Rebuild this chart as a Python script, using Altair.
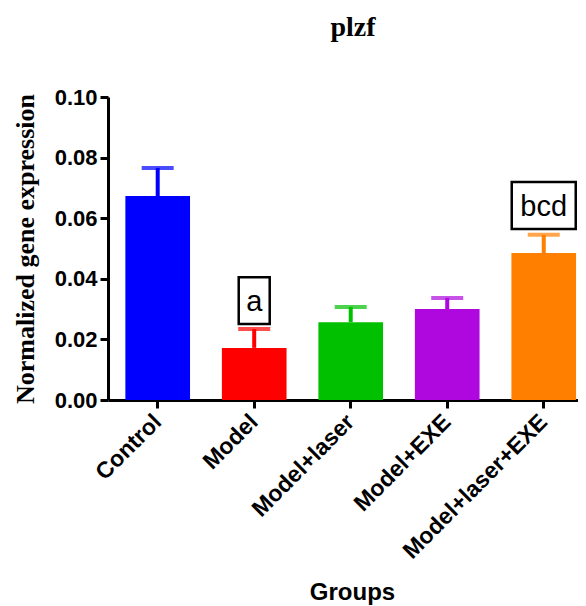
import altair as alt
import pandas as pd

groups = ["Control", "Model", "Model+laser", "Model+EXE", "Model+laser+EXE"]
means = [0.0673, 0.0172, 0.0257, 0.0300, 0.0485]
err_top = [0.0766, 0.0234, 0.0307, 0.0337, 0.0545]
colors = ["#0000FF", "#FF0000", "#00C000", "#AE08DE", "#FF8000"]

letter_groups = ["Model", "Model+laser+EXE"]
letters = ["a", "bcd"]
letter_y = [0.0328, 0.0642]

df = pd.DataFrame({"group": groups, "mean": means, "err": err_top, "color": colors})
half_box = 0.00775
ann = pd.DataFrame({"group": letter_groups, "letter": letters, "y": letter_y})
ann["lo"] = ann["y"] - half_box
ann["hi"] = ann["y"] + half_box

SANS = "Liberation Sans"
SERIF = "Liberation Serif"

x_enc = alt.X(
    "group:N",
    sort=groups,
    scale=alt.Scale(paddingInner=0.33, paddingOuter=0.1, align=0.9),
    axis=alt.Axis(
        title="Groups",
        titleFont=SANS, titleFontSize=24, titleFontWeight="bold", titleColor="black",
        titleX=244, titleY=199, titleAlign="center", titleBaseline="alphabetic",
        labelAngle=-45, labelAlign="right", labelBaseline="middle",
        labelFont=SANS, labelFontSize=23, labelFontWeight="bold", labelColor="black",
        labelPadding=10, labelLimit=0, labelOverlap=False,
        tickSize=8, tickWidth=3, tickColor="black",
        domainWidth=3, domainColor="black",
    ),
)
y_scale = alt.Scale(domain=[0, 0.1], nice=False)
y_axis = alt.Axis(
    title="Normalized gene expression",
    titleFont=SERIF, titleFontSize=26, titleFontWeight="bold", titleColor="black",
    titleAngle=-90, titleAlign="center", titleBaseline="middle",
    titleX=-83, titleY=151.5,
    values=[0, 0.02, 0.04, 0.06, 0.08, 0.10], format=".2f",
    labelFont=SANS, labelFontSize=22, labelFontWeight="bold", labelColor="black",
    labelPadding=3,
    tickSize=8, tickWidth=3, tickColor="black",
    domainWidth=3, domainColor="black", grid=False,
)
color_enc = alt.Color("color:N", scale=None)

base = alt.Chart(df)
bars = base.mark_bar().encode(
    x=x_enc, y=alt.Y("mean:Q", scale=y_scale, axis=y_axis), color=color_enc
)
stems = base.mark_rule(strokeWidth=4).encode(
    x=alt.X("group:N", sort=groups), y="mean:Q", y2="err:Q", color=color_enc
)
caps = base.mark_tick(size=32, thickness=4).encode(
    x=alt.X("group:N", sort=groups), y="err:Q", color=color_enc
)

ann_base = alt.Chart(ann)
box_a = ann_base.transform_filter(alt.datum.letter == "a").mark_bar(
    width=31, fill="white", stroke="black", strokeWidth=2.5
).encode(x=alt.X("group:N", sort=groups), y="lo:Q", y2="hi:Q")
box_bcd = ann_base.transform_filter(alt.datum.letter == "bcd").mark_bar(
    width=64, fill="white", stroke="black", strokeWidth=2.5
).encode(x=alt.X("group:N", sort=groups), y="lo:Q", y2="hi:Q")
texts = ann_base.mark_text(
    font=SANS, fontSize=29, baseline="alphabetic", align="center", dy=10.5, color="black"
).encode(x=alt.X("group:N", sort=groups), y="y:Q", text="letter:N")

chart = alt.layer(bars, stems, caps, box_a, box_bcd, texts).properties(
    width=470,
    height=303,
    padding={"left": 100, "top": 89, "right": 0, "bottom": 205},
    autosize=alt.AutoSizeParams(type="none"),
    title=alt.TitleParams(
        "plzf", font=SERIF, fontSize=28, fontWeight="bold", color="black",
        anchor="middle", dx=10, offset=44,
    ),
).configure_view(stroke=None)

chart.save("out.html", embed_options={"renderer": "svg", "actions": False})
